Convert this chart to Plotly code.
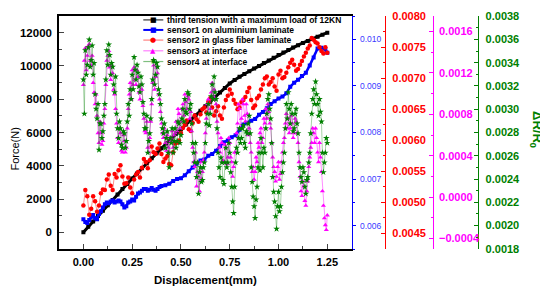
import plotly.graph_objects as go

# ---------------- data ----------------
disp_black = [0.0, 0.025, 0.05, 0.075, 0.1, 0.125, 0.15, 0.175, 0.2, 0.225, 0.25, 0.275, 0.3, 0.325,
              0.35, 0.375, 0.4, 0.425, 0.45, 0.475, 0.5, 0.525, 0.55, 0.575, 0.6, 0.625, 0.65, 0.675,
              0.7, 0.725, 0.75, 0.775, 0.8, 0.825, 0.85, 0.875, 0.9, 0.925, 0.95, 0.975, 1.0, 1.025,
              1.05, 1.075, 1.1, 1.125, 1.15, 1.175, 1.2, 1.225, 1.25]
force_black = [0, 330, 650, 980, 1300, 1630, 1950, 2280, 2600, 2910, 3230, 3540, 3850, 4150,
               4450, 4750, 5050, 5340, 5630, 5920, 6200, 6480, 6750, 7030, 7300, 7580, 7850, 8120,
               8400, 8680, 8950, 9150, 9350, 9520, 9680, 9840, 10000, 10170, 10330, 10490, 10650, 10800,
               10950, 11100, 11250, 11380, 11500, 11630, 11750, 11880, 12000]

disp_s1 = [0.00, 0.01, 0.02, 0.03, 0.04, 0.05, 0.06, 0.07, 0.08, 0.09,
           0.10, 0.11, 0.12, 0.13, 0.14, 0.15, 0.16, 0.17, 0.18, 0.19,
           0.20, 0.21, 0.22, 0.23, 0.24, 0.25, 0.26, 0.27, 0.28, 0.29,
           0.30, 0.31, 0.32, 0.33, 0.34, 0.35, 0.36, 0.37, 0.38, 0.39, 0.40,
           0.42, 0.44, 0.46, 0.48, 0.50, 0.52, 0.54, 0.56, 0.58, 0.60, 0.62, 0.64, 0.66, 0.68,
           0.70, 0.72, 0.74, 0.76, 0.78, 0.80, 0.82, 0.84, 0.86, 0.88, 0.90, 0.92, 0.94, 0.96,
           0.98, 1.00, 1.02, 1.04, 1.06, 1.08, 1.10, 1.12, 1.14, 1.16, 1.18, 1.20, 1.22, 1.24, 1.25]
sensor1 = [0.00614, 0.00608, 0.00606, 0.00612, 0.00619, 0.00623, 0.00616, 0.00614, 0.00625, 0.00631,
           0.00639, 0.00646, 0.00650, 0.00648, 0.00652, 0.00654, 0.00650, 0.00652, 0.00654, 0.00652,
           0.00646, 0.00639, 0.00642, 0.00650, 0.00652, 0.00656, 0.00654, 0.00662, 0.00669, 0.00671,
           0.00675, 0.00679, 0.00679, 0.00675, 0.00677, 0.00681, 0.00677, 0.00675, 0.00679, 0.00683, 0.00685,
           0.00687, 0.00690, 0.00696, 0.00700, 0.00702, 0.00708, 0.00717, 0.00725, 0.00733, 0.00740,
           0.00742, 0.00750, 0.00754, 0.00761, 0.00771, 0.00779, 0.00783, 0.00790, 0.00794, 0.00806,
           0.00817, 0.00821, 0.00825, 0.00829, 0.00838, 0.00844, 0.00852, 0.00861, 0.00867, 0.00873,
           0.00877, 0.00884, 0.00898, 0.00907, 0.00913, 0.00921, 0.00928, 0.00944, 0.00961, 0.00980,
           0.00982, 0.00978, 0.00971]

disp_s2_a = [0.00, 0.02, 0.04, 0.06, 0.08, 0.10, 0.12, 0.14, 0.16, 0.18, 0.20, 0.22, 0.24, 0.26,
             0.28, 0.30, 0.32, 0.34, 0.36, 0.38, 0.40, 0.42, 0.44, 0.46, 0.48, 0.50, 0.52, 0.54,
             0.56, 0.58, 0.60, 0.62, 0.64, 0.66, 0.68, 0.70, 0.72, 0.74, 0.76, 0.78, 0.80, 0.82,
             0.84, 0.86, 0.88, 0.90, 0.92, 0.94, 0.96, 0.98, 1.00, 1.02, 1.04, 1.06, 1.08, 1.10,
             1.12, 1.14, 1.16, 1.18, 1.20, 1.22, 1.24, 1.25]
sensor2_a = [0.00495, 0.00510, 0.00490, 0.00502, 0.00495, 0.00521, 0.00537, 0.00527, 0.00546, 0.00552,
             0.00542, 0.00531, 0.00524, 0.00537, 0.00549, 0.00556, 0.00565, 0.00568, 0.00581, 0.00587,
             0.00578, 0.00571, 0.00562, 0.00581, 0.00596, 0.00612, 0.00625, 0.00618, 0.00628, 0.00634,
             0.00642, 0.00653, 0.00662, 0.00653, 0.00647, 0.00640, 0.00653, 0.00672, 0.00675, 0.00659,
             0.00653, 0.00665, 0.00678, 0.00665, 0.00656, 0.00672, 0.00690, 0.00703, 0.00694, 0.00687,
             0.00706, 0.00700, 0.00709, 0.00725, 0.00722, 0.00715, 0.00728, 0.00741, 0.00753, 0.00762,
             0.00756, 0.00744, 0.00750, 0.00741]
disp_s2_b = [0.01, 0.03, 0.05, 0.07, 0.09, 0.11, 0.13, 0.15, 0.17, 0.19, 0.21, 0.23, 0.25, 0.27,
             0.29, 0.31, 0.33, 0.35, 0.37, 0.39, 0.41, 0.43, 0.45, 0.47, 0.49, 0.51, 0.53, 0.55,
             0.57, 0.59, 0.61, 0.63, 0.65, 0.67, 0.69, 0.71, 0.73, 0.75, 0.77, 0.79, 0.81, 0.83,
             0.85, 0.87, 0.89, 0.91, 0.93, 0.95, 0.97, 0.99, 1.01, 1.03, 1.05, 1.07, 1.09, 1.11,
             1.13, 1.15, 1.17, 1.19, 1.21, 1.23]
sensor2_b = [0.00520, 0.00480, 0.00510, 0.00485, 0.00515, 0.00520, 0.00545, 0.00520, 0.00540, 0.00560,
             0.00530, 0.00540, 0.00515, 0.00545, 0.00540, 0.00570, 0.00555, 0.00590, 0.00578, 0.00595,
             0.00565, 0.00575, 0.00560, 0.00595, 0.00600, 0.00620, 0.00632, 0.00615, 0.00640, 0.00630,
             0.00650, 0.00645, 0.00668, 0.00640, 0.00655, 0.00635, 0.00665, 0.00682, 0.00665, 0.00650,
             0.00662, 0.00670, 0.00685, 0.00652, 0.00668, 0.00682, 0.00700, 0.00690, 0.00700, 0.00680,
             0.00712, 0.00702, 0.00718, 0.00730, 0.00712, 0.00722, 0.00735, 0.00748, 0.00765, 0.00758,
             0.00750, 0.00740]

disp_s34_a = [0.00, 0.01, 0.02, 0.03, 0.04, 0.05, 0.06, 0.07, 0.08, 0.09,
              0.10, 0.11, 0.12, 0.13, 0.14, 0.15, 0.16, 0.17, 0.18, 0.19,
              0.20, 0.21, 0.22, 0.23, 0.24, 0.25, 0.26, 0.27, 0.28, 0.29,
              0.30, 0.31, 0.32, 0.33, 0.34, 0.35, 0.36, 0.37, 0.38, 0.39,
              0.40, 0.41, 0.42, 0.43, 0.44, 0.45, 0.46, 0.47, 0.48, 0.49,
              0.50, 0.51, 0.52, 0.53, 0.54, 0.55, 0.56, 0.57, 0.58, 0.59,
              0.60, 0.61, 0.62, 0.63, 0.64, 0.65, 0.66, 0.67, 0.68, 0.69,
              0.70, 0.71, 0.72, 0.73, 0.74, 0.75, 0.76, 0.77, 0.78, 0.79,
              0.80, 0.81, 0.82, 0.83, 0.84, 0.85, 0.86, 0.87, 0.88, 0.89,
              0.90, 0.91, 0.92, 0.93, 0.94, 0.95, 0.96, 0.97, 0.98, 0.99,
              1.00, 1.01, 1.02, 1.03, 1.04, 1.05, 1.06, 1.07, 1.08, 1.09,
              1.10, 1.11, 1.12, 1.13, 1.14, 1.15, 1.16, 1.17, 1.18, 1.19,
              1.20, 1.21, 1.22, 1.23, 1.24, 1.25]
disp_s34_b = [0.005, 0.015, 0.025, 0.035, 0.045, 0.055, 0.065, 0.075, 0.085, 0.095,
              0.105, 0.115, 0.125, 0.135, 0.145, 0.155, 0.165, 0.175, 0.185, 0.195,
              0.205, 0.215, 0.225, 0.235, 0.245, 0.255, 0.265, 0.275, 0.285, 0.295,
              0.305, 0.315, 0.325, 0.335, 0.345, 0.355, 0.365, 0.375, 0.385, 0.395,
              0.405, 0.415, 0.425, 0.435, 0.445, 0.455, 0.465, 0.475, 0.485, 0.495,
              0.505, 0.515, 0.525, 0.535, 0.545, 0.555, 0.565, 0.575, 0.585, 0.595,
              0.605, 0.615, 0.625, 0.635, 0.645, 0.655, 0.665, 0.675, 0.685, 0.695,
              0.705, 0.715, 0.725, 0.735, 0.745, 0.755, 0.765, 0.775, 0.785, 0.795,
              0.805, 0.815, 0.825, 0.835, 0.845, 0.855, 0.865, 0.875, 0.885, 0.895,
              0.905, 0.915, 0.925, 0.935, 0.945, 0.955, 0.965, 0.975, 0.985, 0.995,
              1.005, 1.015, 1.025, 1.035, 1.045, 1.055, 1.065, 1.075, 1.085, 1.095,
              1.105, 1.115, 1.125, 1.135, 1.145, 1.155, 1.165, 1.175, 1.185, 1.195,
              1.205, 1.215, 1.225, 1.235, 1.245]
sensor3_a = [0.001086, 0.001441, 0.001367, 0.001479, 0.001273, 0.001105, 0.000899, 0.000787, 0.000526, 0.000619,
             0.000544, 0.000853, 0.001320, 0.001413, 0.001133, 0.001198, 0.000993, 0.000712, 0.000526, 0.000619,
             0.000432, 0.000544, 0.000479, 0.000853, 0.001105, 0.001227, 0.001255, 0.001086, 0.001161, 0.000946,
             0.001040, 0.000759, 0.000619, 0.000479, 0.000572, 0.000899, 0.001273, 0.001161, 0.001198, 0.000946,
             0.000712, 0.000572, 0.000526, 0.000600, 0.000432, 0.000544, 0.000479, 0.000619, 0.000638, 0.000806,
             0.000731, 0.000899, 0.000993, 0.000853, 0.000946, 0.000825, 0.000479, 0.000292, 0.000105, 0.000198,
             0.000339, 0.000245, 0.000432, 0.000759, 0.000946, 0.000853, 0.001105, 0.001040, 0.000899, 0.000619,
             0.000432, 0.000526, 0.000339, 0.000479, 0.000385, 0.000526, 0.000339, 0.000292, 0.000432, 0.000712,
             0.000853, 0.000759, 0.000899, 0.000731, 0.000806, 0.000666, 0.000432, 0.000292, 0.000245, 0.000339,
             0.000479, 0.000666, 0.000572, 0.000712, 0.000759, 0.000825, 0.000666, 0.000385, 0.000245, 0.000198,
             0.000339, 0.000226, 0.000432, 0.000572, 0.000806, 0.000759, 0.000666, 0.000712, 0.000619, 0.000731,
             0.000526, 0.000198, 0.000012, 0.000105, -0.000082, 0.000152, 0.000385, 0.000526, 0.000619, 0.000666,
             0.000432, 0.000526, 0.000245, -0.000082, -0.000269, -0.000175]
sensor3_b = [0.001320, 0.001227, 0.001460, 0.001320, 0.001367, 0.001012, 0.000993, 0.000619, 0.000731, 0.000507,
             0.000712, 0.001086, 0.001367, 0.001255, 0.001273, 0.001040, 0.000853, 0.000572, 0.000666, 0.000451,
             0.000600, 0.000432, 0.000666, 0.000993, 0.000946, 0.001086, 0.001133, 0.001227, 0.001012, 0.001086,
             0.000881, 0.000638, 0.000731, 0.000432, 0.000731, 0.001105, 0.001040, 0.001255, 0.000993, 0.000825,
             0.000619, 0.000666, 0.000451, 0.000479, 0.000572, 0.000638, 0.000600, 0.000731, 0.000853, 0.000666,
             0.000853, 0.000787, 0.000918, 0.000974, 0.000759, 0.000638, 0.000339, 0.000432, 0.000245, 0.000058,
             0.000170, 0.000357, 0.000619, 0.000899, 0.000806, 0.001012, 0.000974, 0.000946, 0.000731, 0.000479,
             0.000572, 0.000357, 0.000507, 0.000320, 0.000572, 0.000385, 0.000198, 0.000432, 0.000619, 0.000899,
             0.000666, 0.000946, 0.000787, 0.000899, 0.000600, 0.000526, 0.000245, 0.000170, 0.000385, 0.000526,
             0.000619, 0.000526, 0.000759, 0.000853, 0.000899, 0.000712, 0.000526, 0.000292, 0.000152, 0.000292,
             0.000170, 0.000339, 0.000526, 0.000712, 0.000666, 0.000619, 0.000787, 0.000572, 0.000759, 0.000619,
             0.000339, 0.000058, 0.000152, -0.000035, 0.000058, 0.000292, 0.000479, 0.000666, 0.000526, 0.000572,
             0.000339, 0.000385, 0.000058, -0.000203, -0.000316]
sensor4_a = [0.003255, 0.003506, 0.003381, 0.003599, 0.003423, 0.003297, 0.003129, 0.002919, 0.002651, 0.002877,
             0.002810, 0.003045, 0.003506, 0.003557, 0.003297, 0.003364, 0.003146, 0.002961, 0.002751, 0.002835,
             0.002668, 0.002793, 0.002726, 0.003045, 0.003171, 0.003297, 0.003448, 0.003255, 0.003314, 0.003146,
             0.003213, 0.002961, 0.002835, 0.002626, 0.002793, 0.003087, 0.003423, 0.003297, 0.003364, 0.003129,
             0.002919, 0.002793, 0.002668, 0.002810, 0.002500, 0.002710, 0.002626, 0.002835, 0.002726, 0.002877,
             0.002777, 0.003003, 0.003087, 0.002961, 0.003129, 0.003045, 0.002710, 0.002542, 0.002416, 0.002273,
             0.002500, 0.002391, 0.002542, 0.002877, 0.003045, 0.002961, 0.003213, 0.003280, 0.003087, 0.002626,
             0.002416, 0.002542, 0.002357, 0.002668, 0.002542, 0.002626, 0.002332, 0.002106, 0.002542, 0.002626,
             0.002835, 0.002751, 0.002861, 0.002668, 0.002793, 0.002944, 0.002500, 0.002248, 0.002064, 0.002332,
             0.002626, 0.002751, 0.002500, 0.002626, 0.002961, 0.003129, 0.002919, 0.002416, 0.002206, 0.001971,
             0.002290, 0.002164, 0.002458, 0.002626, 0.003045, 0.003146, 0.002877, 0.002961, 0.002835, 0.003003,
             0.002793, 0.002500, 0.002374, 0.002458, 0.002273, 0.002416, 0.002626, 0.002961, 0.003171, 0.003238,
             0.003045, 0.003087, 0.002894, 0.002458, 0.002626, 0.002710]
sensor4_b = [0.002961, 0.003297, 0.003532, 0.003364, 0.003548, 0.003397, 0.003003, 0.003045, 0.002877, 0.002751,
             0.002944, 0.003255, 0.003381, 0.003465, 0.003397, 0.003213, 0.003280, 0.002835, 0.002894, 0.002693,
             0.002810, 0.002668, 0.002894, 0.002944, 0.003087, 0.003171, 0.003339, 0.003381, 0.003196, 0.003280,
             0.003062, 0.002835, 0.002944, 0.002726, 0.002919, 0.003255, 0.003213, 0.003397, 0.003171, 0.003045,
             0.002835, 0.002877, 0.002751, 0.002626, 0.002751, 0.002835, 0.002726, 0.002668, 0.002894, 0.002710,
             0.002919, 0.002894, 0.002978, 0.003146, 0.003003, 0.002877, 0.002626, 0.002710, 0.002542, 0.002458,
             0.002374, 0.002500, 0.002710, 0.002961, 0.002861, 0.003112, 0.003087, 0.003146, 0.002835, 0.002500,
             0.002584, 0.002391, 0.002542, 0.002500, 0.002710, 0.002458, 0.002206, 0.002332, 0.002668, 0.002751,
             0.002710, 0.002835, 0.002710, 0.002810, 0.002877, 0.002793, 0.002374, 0.002164, 0.002223, 0.002500,
             0.002475, 0.002626, 0.002668, 0.002835, 0.003087, 0.003003, 0.002710, 0.002290, 0.002080, 0.002164,
             0.002122, 0.002332, 0.002542, 0.002835, 0.002919, 0.003003, 0.003045, 0.002810, 0.002961, 0.002877,
             0.002626, 0.002416, 0.002500, 0.002332, 0.002391, 0.002542, 0.002793, 0.003087, 0.003045, 0.003129,
             0.002944, 0.002978, 0.002626, 0.002542, 0.002751]

legend_labels = ["third tension with a maximum load of 12KN",
                 "sensor1 on aluminium laminate",
                 "sensor2 in glass fiber laminate",
                 "sensor3 at interface",
                 "sensor4 at interface"]


def merge(xa, ya, xb, yb):
    pts = sorted(zip(list(xa) + list(xb), list(ya) + list(yb)))
    return [p[0] for p in pts], [p[1] for p in pts]


disp_s2, sensor2 = merge(disp_s2_a, sensor2_a, disp_s2_b, sensor2_b)
disp_s3, sensor3 = merge(disp_s34_a, sensor3_a, disp_s34_b, sensor3_b)
disp_s4, sensor4 = merge(disp_s34_a, sensor4_a, disp_s34_b, sensor4_b)

# ---------------- style ----------------
FONT = "Liberation Sans, Arial, sans-serif"
BLUE = "#0000ff"
BLUE_T = "#3a3aff"
RED = "#ff0000"
MAG = "#ff00ff"
GRN = "#007f00"

fig = go.Figure()
fig.add_trace(go.Scatter(x=disp_black, y=force_black, yaxis="y", mode="lines+markers",
                         line=dict(color="black", width=3),
                         marker=dict(symbol="square", size=4, color="black"),
                         name=legend_labels[0]))
fig.add_trace(go.Scatter(x=disp_s1, y=sensor1, yaxis="y2", mode="lines+markers",
                         line=dict(color=BLUE, width=2.5),
                         marker=dict(symbol="square", size=4, color=BLUE),
                         name=legend_labels[1]))
fig.add_trace(go.Scatter(x=disp_s2, y=sensor2, yaxis="y3", mode="lines+markers",
                         line=dict(color="rgba(255,0,0,0.45)", width=1),
                         marker=dict(symbol="circle", size=4.5, color=RED),
                         name=legend_labels[2]))
fig.add_trace(go.Scatter(x=disp_s3, y=sensor3, yaxis="y4", mode="lines+markers",
                         line=dict(color="rgba(255,0,255,0.45)", width=1),
                         marker=dict(symbol="triangle-up", size=4.5, color=MAG),
                         name=legend_labels[3]))
fig.add_trace(go.Scatter(x=disp_s4, y=sensor4, yaxis="y5", mode="lines+markers",
                         line=dict(color="rgba(0,128,0,0.35)", width=1),
                         marker=dict(symbol="star", size=5, color=GRN),
                         name=legend_labels[4]))

# the page body adds an 8px offset; window-pixel layout is compensated here
OFF = 8
W, H = 548 - OFF, 289 - OFF
L0, T0 = 59, 10            # plot-area top-left in window pixels
PW, PH = 469, 239          # plot-area size (paper) in pixels
L, T = L0 - OFF, T0 - OFF
R, B = W - L - PW, H - T - PH


def px(xp):
    return (xp - L0) / PW


def py(yp):
    return 1 - (yp - T0) / PH


xdom_end = px(351.7)

fig.update_layout(
    width=W, height=H, autosize=False,
    margin=dict(l=L, r=R, t=T, b=B, pad=0),
    plot_bgcolor="white", paper_bgcolor="white",
    showlegend=False,
    font=dict(family=FONT, color="black"),
    xaxis=dict(domain=[0, xdom_end], range=[-0.125, 1.375], tick0=0, dtick=0.25,
               tickformat=".2f", ticks="inside", ticklen=5, tickwidth=1.2,
               minor=dict(ticks="inside", ticklen=3, dtick=0.125, tickwidth=1.2),
               showline=True, linecolor="black", linewidth=1.5, mirror=True,
               showgrid=False, zeroline=False, ticklabeloverflow="allow",
               tickfont=dict(size=11, family=FONT, weight="bold"), ticklabelstandoff=2),
    yaxis=dict(range=[-1000, 13000], tick0=0, dtick=2000, tickformat="d",
               ticks="inside", ticklen=5, tickwidth=1.2,
               minor=dict(ticks="inside", ticklen=3, dtick=1000, tickwidth=1.2),
               showline=True, linecolor="black", linewidth=1.5,
               showgrid=False, zeroline=False, ticklabeloverflow="allow",
               tickfont=dict(size=11.5, family=FONT, weight="bold"), ticklabelstandoff=3),
    yaxis2=dict(overlaying="y", side="right", anchor="x", range=[0.0055, 0.0105],
                tick0=0, dtick=0.001, tickformat=".3f",
                ticks="outside", ticklen=3.5, tickwidth=1, tickcolor=BLUE,
                minor=dict(ticks="outside", ticklen=2, dtick=0.0005, tickcolor=BLUE),
                showline=True, linecolor=BLUE, linewidth=1.2,
                showgrid=False, zeroline=False, ticklabeloverflow="allow",
                tickfont=dict(size=8.5, family=FONT, color=BLUE_T), ticklabelstandoff=2),
    yaxis3=dict(overlaying="y", side="right", anchor="free", position=px(385),
                range=[0.00425, 0.008004], tick0=0, dtick=0.0005, tickformat=".4f",
                ticks="inside", ticklen=3.5, tickwidth=1.2, tickcolor=RED,
                minor=dict(ticks="inside", ticklen=2, dtick=0.00025, tickcolor=RED),
                showline=True, linecolor=RED, linewidth=1.2,
                showgrid=False, zeroline=False, ticklabeloverflow="allow",
                tickfont=dict(size=11, family=FONT, color=RED, weight="bold"), ticklabelstandoff=4),
    yaxis4=dict(overlaying="y", side="right", anchor="free", position=px(432.7),
                range=[-0.0005, 0.00175], tick0=0, dtick=0.0004, tickformat=".4f",
                ticks="inside", ticklen=4, tickwidth=1.2, tickcolor=MAG,
                minor=dict(ticks="inside", ticklen=2, dtick=0.0002, tickcolor=MAG),
                showline=True, linecolor=MAG, linewidth=1.2,
                showgrid=False, zeroline=False, ticklabeloverflow="allow",
                tickfont=dict(size=11, family=FONT, color=MAG, weight="bold"), ticklabelstandoff=3),
    yaxis5=dict(overlaying="y", side="right", anchor="free", position=px(478.3),
                range=[0.001798, 0.003802], tick0=0, dtick=0.0002, tickformat=".4f",
                ticks="inside", ticklen=4, tickwidth=1.2, tickcolor=GRN,
                minor=dict(ticks="inside", ticklen=2, dtick=0.0001, tickcolor=GRN),
                showline=True, linecolor=GRN, linewidth=1.2,
                showgrid=False, zeroline=False, ticklabeloverflow="allow",
                tickfont=dict(size=11, family=FONT, color=GRN, weight="bold"), ticklabelstandoff=4),
)

annotations = []
shapes = []

# axis titles
annotations.append(dict(text="Displacement(mm)", xref="paper", yref="paper",
                        x=px(205.5), y=py(281), showarrow=False, xanchor="center", yanchor="middle",
                        font=dict(size=11.5, family=FONT, weight="bold", color="black")))
annotations.append(dict(text="Force(N)", xref="paper", yref="paper",
                        x=px(15), y=py(147), showarrow=False, xanchor="center", yanchor="middle",
                        textangle=-90, font=dict(size=11, family=FONT, color="black")))
annotations.append(dict(text="ΔR/R<sub>0</sub>", xref="paper", yref="paper",
                        x=px(537), y=py(126), showarrow=False, xanchor="center", yanchor="middle",
                        textangle=90, font=dict(size=13, family=FONT, weight="bold", color=GRN)))

# legend (drawn manually to match compact row spacing)
rows_y = [14, 24.3, 34.7, 45.7, 56.7]
line_cols = ["#333333", BLUE, "rgba(255,0,0,0.5)", "rgba(255,0,255,0.5)", "rgba(0,128,0,0.5)"]
glyphs = ["■", "■", "●", "▲", "★"]
glyph_cols = ["black", BLUE, RED, MAG, GRN]
glyph_sizes = [7, 7, 7, 7, 8]
for i, lab in enumerate(legend_labels):
    yy = py(rows_y[i])
    shapes.append(dict(type="line", xref="paper", yref="paper", x0=px(143.3), x1=px(163.3),
                       y0=yy, y1=yy, line=dict(color=line_cols[i], width=1.2 if i != 1 else 2)))
    annotations.append(dict(text=glyphs[i], xref="paper", yref="paper", x=px(153), y=yy,
                            showarrow=False, xanchor="center", yanchor="middle",
                            font=dict(size=glyph_sizes[i], family="DejaVu Sans", color=glyph_cols[i])))
    annotations.append(dict(text=lab, xref="paper", yref="paper", x=px(165), y=yy,
                            showarrow=False, xanchor="left", yanchor="middle",
                            font=dict(size=8.5, family=FONT, weight="bold", color="black")))

fig.update_layout(annotations=annotations, shapes=shapes)

fig.write_html("out.html")
